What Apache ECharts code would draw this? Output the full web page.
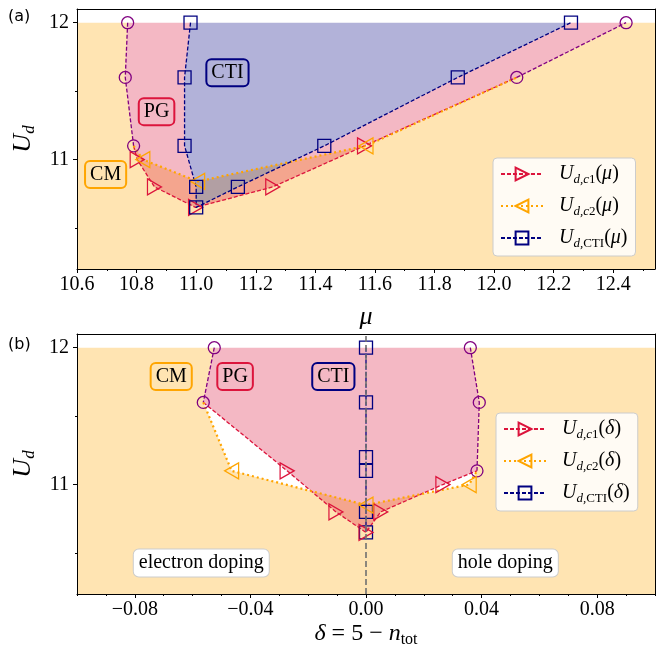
<!DOCTYPE html>
<html>
<head>
<meta charset="utf-8">
<script src="https://cdn.jsdelivr.net/npm/echarts@6/dist/echarts.min.js"></script>
<style>
html, body { margin: 0; padding: 0; background: #fff; }
#main { width: 657px; height: 649px; }
</style>
</head>
<body>
<div id="main"></div>
<script>
// ---------- panel (a): U_d against mu ----------
var pgLeftMu  = [10.770, 10.762, 10.790];
var pgLeftU   = [12.0, 11.6, 11.1];
var pgRightMu = [12.076, 12.443];
var pgRightU  = [11.6, 12.0];
var c1Mu  = [10.802, 10.860, 10.998, 11.257, 11.565];
var c1U   = [11.0, 10.8, 10.65, 10.8, 11.1];
var c2Mu  = [10.821, 11.005, 11.570];
var c2U   = [11.0, 10.84, 11.1];
var ctiMu = [10.981, 10.961, 10.961, 11.000, 11.000, 11.140, 11.430, 11.878, 12.258];
var ctiU  = [12.0, 11.6, 11.1, 10.8, 10.65, 10.8, 11.1, 11.6, 12.0];
var muTicks = [10.6, 10.8, 11.0, 11.2, 11.4, 11.6, 11.8, 12.0, 12.2, 12.4];
var muMinor = [10.7, 10.9, 11.1, 11.3, 11.5, 11.7, 11.9, 12.1, 12.3, 12.5];

// ---------- panel (b): U_d against delta ----------
var pgLeftD   = [-0.0525, -0.0563];
var pgLeftUb  = [12.0, 11.6];
var pgRightD  = [0.0361, 0.0392, 0.0384];
var pgRightUb = [12.0, 11.6, 11.1];
var c1D   = [-0.0273, -0.0104, 0.0, 0.0051, 0.0266];
var c1Ub  = [11.1, 10.8, 10.65, 10.8, 11.0];
var c2D   = [-0.0465, 0.0, 0.0357];
var c2Ub  = [11.1, 10.85, 11.0];
var ctiD  = [0, 0, 0, 0, 0, 0];
var ctiUb = [12.0, 11.6, 11.2, 11.1, 10.8, 10.65];
var deltaTicks = [-0.08, -0.04, 0, 0.04, 0.08];
var deltaMinor = [-0.1, -0.09, -0.07, -0.06, -0.05, -0.03, -0.02, -0.01,
                  0.01, 0.02, 0.03, 0.05, 0.06, 0.07, 0.09, 0.1];
var dopingBoundary = 0;

var uTicks = [11, 12];
var uMinor = [10.5, 11.5];

// phase labels
var phaseNames = ['CTI', 'PG', 'CM'];
var phaseMuA = [11.105, 10.867, 10.696];
var phaseUA  = [11.634, 11.35, 10.89];
var phaseDB  = [-0.0113, -0.0453, -0.0674];
var phaseUB  = [11.79, 11.79, 11.79];
var dopingNames = ['electron doping', 'hole doping'];
var dopingD = [-0.057, 0.0482];
var dopingU = [10.426, 10.426];

var U_MIN = 10.2, U_MAX = 12.1;
var MU_MIN = 10.6, MU_MAX = 12.54;
var D_MIN = -0.1, D_MAX = 0.1;

var SERIF = 'Liberation Serif';
var phaseColors = ['#000080', '#dc143c', '#ffa500'];

function pairs(xs, ys) { return xs.map(function (x, i) { return [x, ys[i]]; }); }
function bare(p) { return { value: p, symbol: 'none' }; }
function last(a) { return a[a.length - 1]; }

var aPgL = pairs(pgLeftMu, pgLeftU), aPgR = pairs(pgRightMu, pgRightU);
var aC1 = pairs(c1Mu, c1U), aC2 = pairs(c2Mu, c2U), aCti = pairs(ctiMu, ctiU);
var bPgL = pairs(pgLeftD, pgLeftUb), bPgR = pairs(pgRightD, pgRightUb);
var bC1 = pairs(c1D, c1Ub), bC2 = pairs(c2D, c2Ub), bCti = pairs(ctiD, ctiUb);
var uTop = pgLeftU[0];

// filled phase regions
var aCM = [[MU_MIN, U_MIN], [MU_MIN, uTop]].concat(aPgL, aC2, aPgR, [[MU_MAX, uTop], [MU_MAX, U_MIN]]);
var aPG = [].concat(aPgL, aC1, aPgR, aCti.slice().reverse());
var aCTI = aCti.slice();
var bCM = [[D_MIN, U_MIN], [D_MIN, uTop]].concat(bPgL, bC2, bPgR.slice().reverse(), [[D_MAX, uTop], [D_MAX, U_MIN]]);
var bPG = [].concat(bPgL, bC1, bPgR.slice().reverse());

function region(ax, pts, fill) {
  return {
    type: 'custom', xAxisIndex: ax, yAxisIndex: ax, silent: true, z: 1,
    data: [pts[0]],
    renderItem: function (params, api) {
      return {
        type: 'polygon',
        shape: { points: pts.map(function (p) { return api.coord(p); }) },
        style: { fill: fill }
      };
    }
  };
}

function curve(name, ax, data, color, dash, width, symbol, rotate, size) {
  return {
    name: name, type: 'line', xAxisIndex: ax, yAxisIndex: ax,
    data: data, showAllSymbol: true, clip: false,
    symbol: symbol, symbolRotate: rotate, symbolSize: size,
    lineStyle: { color: color, width: width, type: dash },
    itemStyle: { color: 'rgba(255,255,255,0)', borderColor: color, borderWidth: 1.3 },
    emphasis: { disabled: true }, animation: false, z: 3
  };
}

function boxes(ax, names, xs, ys, colors, bg) {
  return {
    type: 'scatter', xAxisIndex: ax, yAxisIndex: ax, symbolSize: 1, z: 4, silent: true,
    itemStyle: { color: 'rgba(0,0,0,0)', opacity: 1 },
    emphasis: { disabled: true },
    data: names.map(function (n, i) {
      return {
        value: [xs[i], ys[i]],
        label: {
          show: true, position: 'inside', formatter: n, opacity: 1,
          fontFamily: SERIF, fontSize: 20, color: '#000',
          backgroundColor: bg, borderColor: colors[i], borderWidth: 1,
          borderRadius: 5, padding: [4, 5, 3, 5]
        }
      };
    })
  };
}

var axisLineStyle = { color: '#000', width: 1 };
var tickFont = { fontFamily: SERIF, fontSize: 20, color: '#000' };

function xAxes(gi, min, max, major, minor, fmt, name, gap, rich) {
  return [
    { gridIndex: gi, type: 'value', min: min, max: max, position: 'bottom', z: 5,
      axisLine: { show: true, onZero: false, lineStyle: axisLineStyle },
      axisTick: { show: true, length: 4, customValues: major, lineStyle: axisLineStyle },
      axisLabel: Object.assign({ customValues: major, formatter: fmt, margin: 6 }, tickFont),
      splitLine: { show: false },
      name: name, nameLocation: 'middle', nameGap: gap, nameTextStyle: { rich: rich } },
    { gridIndex: gi, type: 'value', min: min, max: max, position: 'bottom', z: 5,
      axisLine: { show: false, onZero: false },
      axisTick: { show: true, length: 2, customValues: minor, lineStyle: axisLineStyle },
      axisLabel: { show: false }, splitLine: { show: false } },
    { gridIndex: gi, type: 'value', min: min, max: max, position: 'top', z: 5,
      axisLine: { show: true, onZero: false, lineStyle: axisLineStyle },
      axisTick: { show: false }, axisLabel: { show: false }, splitLine: { show: false } }
  ];
}

var uNameRich = {
  u: { fontFamily: SERIF, fontStyle: 'italic', fontSize: 26, lineHeight: 30, color: '#000' },
  s: { fontFamily: SERIF, fontStyle: 'italic', fontSize: 17, lineHeight: 17, verticalAlign: 'bottom', color: '#000' }
};

function yAxes(gi) {
  return [
    { gridIndex: gi, type: 'value', min: U_MIN, max: U_MAX, position: 'left', z: 5,
      axisLine: { show: true, onZero: false, lineStyle: axisLineStyle },
      axisTick: { show: true, length: 4, customValues: uTicks, lineStyle: axisLineStyle },
      axisLabel: Object.assign({ customValues: uTicks, margin: 8 }, tickFont),
      splitLine: { show: false },
      name: '{u|U}{s|d}', nameLocation: 'middle', nameRotate: 90, nameGap: 38,
      nameTextStyle: { rich: uNameRich } },
    { gridIndex: gi, type: 'value', min: U_MIN, max: U_MAX, position: 'left', z: 5,
      axisLine: { show: false, onZero: false },
      axisTick: { show: true, length: 2, customValues: uMinor, lineStyle: axisLineStyle },
      axisLabel: { show: false }, splitLine: { show: false } },
    { gridIndex: gi, type: 'value', min: U_MIN, max: U_MAX, position: 'right', z: 5,
      axisLine: { show: true, onZero: false, lineStyle: axisLineStyle },
      axisTick: { show: false }, axisLabel: { show: false }, splitLine: { show: false } }
  ];
}

var muRich = { i: { fontFamily: SERIF, fontStyle: 'italic', fontSize: 26, color: '#000' } };
var deltaRich = {
  i: { fontFamily: SERIF, fontStyle: 'italic', fontSize: 24, lineHeight: 28, color: '#000' },
  p: { fontFamily: SERIF, fontSize: 24, lineHeight: 28, color: '#000' },
  r: { fontFamily: SERIF, fontSize: 16, lineHeight: 16, verticalAlign: 'bottom', color: '#000' }
};

var legendRich = {
  u: { fontFamily: SERIF, fontStyle: 'italic', fontSize: 20, lineHeight: 24, padding: [0, 0, 0, 11], color: '#000' },
  s: { fontFamily: SERIF, fontStyle: 'italic', fontSize: 13, lineHeight: 13, verticalAlign: 'bottom', color: '#000' },
  r: { fontFamily: SERIF, fontSize: 13, lineHeight: 13, verticalAlign: 'bottom', color: '#000' },
  p: { fontFamily: SERIF, fontSize: 20, lineHeight: 24, color: '#000' },
  i: { fontFamily: SERIF, fontStyle: 'italic', fontSize: 20, lineHeight: 24, color: '#000' }
};
var legendText = {
  c1a: '{u|U}{s|d,c}{r|1}{p|(}{i|μ}{p|)}',
  c2a: '{u|U}{s|d,c}{r|2}{p|(}{i|μ}{p|)}',
  ctia: '{u|U}{s|d,}{r|CTI}{p|(}{i|μ}{p|)}',
  c1b: '{u|U}{s|d,c}{r|1}{p|(}{i|δ}{p|)}',
  c2b: '{u|U}{s|d,c}{r|2}{p|(}{i|δ}{p|)}',
  ctib: '{u|U}{s|d,}{r|CTI}{p|(}{i|δ}{p|)}'
};

function legend(names, left, top) {
  return {
    data: names, left: left, top: top, orient: 'vertical', selectedMode: false,
    itemWidth: 42, itemHeight: 16, itemGap: 10, padding: [6, 8, 6, 7],
    backgroundColor: 'rgba(255,255,255,0.85)', borderColor: '#cccccc', borderWidth: 1, borderRadius: 4,
    formatter: function (n) { return legendText[n]; },
    textStyle: { color: '#000', rich: legendRich }
  };
}

var dashed = [4, 2];
var dotted = [2, 3];
var triSize = [16, 14], sq = 13, circ = 12;

var option = {
  animation: false,
  backgroundColor: '#fff',
  grid: [
    { left: 77, right: 2, top: 9, height: 260 },
    { left: 77, right: 2, top: 334, height: 261 }
  ],
  xAxis: xAxes(0, MU_MIN, MU_MAX, muTicks, muMinor,
               function (v) { return v.toFixed(1); }, '{i|μ}', 35, muRich)
    .concat(xAxes(1, D_MIN, D_MAX, deltaTicks, deltaMinor,
               function (v) { return (v < -1e-9 ? '−' : '') + Math.abs(v).toFixed(2); },
               '{i|δ}{p| = 5 − }{i|n}{r|tot}', 26, deltaRich)),
  yAxis: yAxes(0).concat(yAxes(1)),
  legend: [legend(['c1a', 'c2a', 'ctia'], 493, 158), legend(['c1b', 'c2b', 'ctib'], 496, 413)],
  graphic: [
    { type: 'text', left: 8, top: 9, style: { text: '(a)', fontFamily: 'DejaVu Sans', fontSize: 16, fill: '#000' } },
    { type: 'text', left: 8, top: 337, style: { text: '(b)', fontFamily: 'DejaVu Sans', fontSize: 16, fill: '#000' } }
  ],
  series: [
    // panel (a)
    region(0, aCM, 'rgba(255,165,0,0.3)'),
    region(0, aPG, 'rgba(220,20,60,0.3)'),
    region(0, aCTI, 'rgba(0,0,128,0.3)'),
    curve('pgA1', 0, aPgL, '#800080', dashed, 1.3, 'circle', 0, circ),
    curve('pgA2', 0, aPgR, '#800080', dashed, 1.3, 'circle', 0, circ),
    curve('c1a', 0, [bare(last(aPgL))].concat(aC1, [bare(aPgR[0])]), '#dc143c', dashed, 1.3, 'triangle', -90, triSize),
    curve('c2a', 0, [bare(last(aPgL))].concat(aC2, [bare(aPgR[0])]), '#ffa500', dotted, 2.2, 'triangle', 90, triSize),
    curve('ctia', 0, aCti, '#000080', dashed, 1.3, 'rect', 0, sq),
    boxes(0, phaseNames, phaseMuA, phaseUA, phaseColors, 'rgba(255,255,255,0)'),
    // panel (b)
    region(3, bCM, 'rgba(255,165,0,0.3)'),
    region(3, bPG, 'rgba(220,20,60,0.3)'),
    curve('pgB1', 3, bPgL, '#800080', dashed, 1.3, 'circle', 0, circ),
    curve('pgB2', 3, bPgR, '#800080', dashed, 1.3, 'circle', 0, circ),
    Object.assign(curve('ctib', 3, bCti, '#000080', dashed, 1.3, 'rect', 0, sq), {
      markLine: {
        silent: true, symbol: 'none', label: { show: false }, animation: false,
        lineStyle: { color: '#707070', type: [6, 3], width: 1.6 },
        data: [{ xAxis: dopingBoundary }]
      }
    }),
    curve('c1b', 3, [bare(last(bPgL))].concat(bC1, [bare(last(bPgR))]), '#dc143c', dashed, 1.3, 'triangle', -90, triSize),
    curve('c2b', 3, [bare(last(bPgL))].concat(bC2, [bare(last(bPgR))]), '#ffa500', dotted, 2.2, 'triangle', 90, triSize),
    boxes(3, phaseNames, phaseDB, phaseUB, phaseColors, 'rgba(255,255,255,0)'),
    boxes(3, dopingNames, dopingD, dopingU, ['#cccccc', '#cccccc'], '#ffffff')
  ]
};

var chart = echarts.init(document.getElementById('main'));
chart.setOption(option);
</script>
</body>
</html>
